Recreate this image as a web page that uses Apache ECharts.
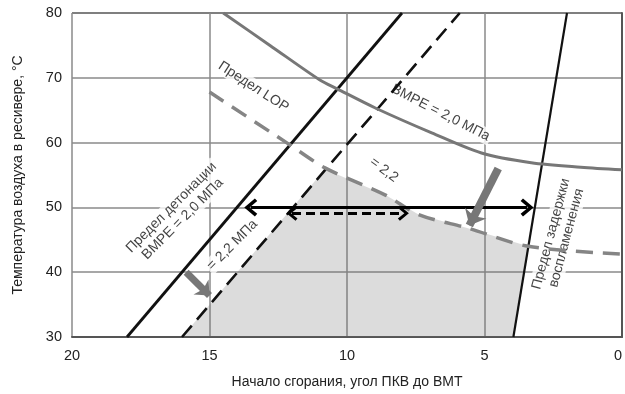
<!DOCTYPE html>
<html><head><meta charset="utf-8">
<script src="https://cdn.jsdelivr.net/npm/echarts@6/dist/echarts.min.js"></script>
<style>html,body{margin:0;padding:0;background:#fff}#c{width:625px;height:394px}</style>
</head><body><div id="c"></div>
<script>
// ---- data ----
const detonationLimit20 = [[18, 30], [8, 80]];          // Предел детонации BMPE = 2,0
const detonationLimit22 = [[16, 30], [5.9, 80]];        // = 2,2 МПа
const ignitionDelayLimit = [[3.95, 30], [2.0, 80]];     // Предел задержки воспламенения
const lopLimit20 = [[14.5, 80], [12.8, 75], [11.0, 69.7], [10.36, 68.3], [8.95, 65.3], [6.92, 61.5], [5.11, 58.4], [3.3, 56.9], [1.5, 56.2], [0, 55.8]];
const lopLimit22 = [[15, 67.8], [12.2, 60], [10.8, 56.1], [8.6, 51.9], [7.4, 48.9], [5.6, 46.8], [3.41, 44.0], [0, 42.8]];
const zoneArea = [[16, 30], [10.8, 55.9], [8.6, 51.9], [7.4, 48.9], [5.6, 46.8], [3.41, 44.0], [3.95, 30]];
const rangeSolid = [[13.5, 50], [3.45, 50]];
const rangeDashed = [[12.0, 49.1], [7.95, 49.1]];
const shiftArrowLeft = [[15.85, 40.0], [15.0, 36.4]];
const shiftArrowRight = [[4.5, 56.0], [5.55, 47.2]];
const xTicks = [20, 15, 10, 5, 0];
const yTicks = [30, 40, 50, 60, 70, 80];
const annotations = [
  { text: 'Предел LOP', pos: [13.4, 68.6], rot: -33 },
  { text: 'BMPE = 2,0 МПа', pos: [6.6, 64.6], rot: -27 },
  { text: '= 2,2', pos: [8.66, 55.8], rot: -37 },
  { text: 'Предел детонации\nBMPE = 2,0 МПа', pos: [16.18, 49.1], rot: 45 },
  { text: '= 2,2 МПа', pos: [14.17, 44.2], rot: 45 },
  { text: 'Предел задержки\nвоспламенения', pos: [2.3, 45.6], rot: 75 }
];
const xName = 'Начало сгорания, угол ПКВ до ВМТ';
const yName = 'Температура воздуха в ресивере, °C';

// ---- chart ----
const FONT = "'Liberation Sans',Arial,sans-serif";
const chev = 'path://M0,0 L10,9 L7,11 L0,4.5 L-7,11 L-10,9 Z';
const chart = echarts.init(document.getElementById('c'), null, { renderer: 'canvas' });
chart.setOption({
  animation: false,
  textStyle: { fontFamily: FONT },
  grid: { left: 72, right: 1, top: 13, bottom: 57 },
  xAxis: {
    type: 'value', inverse: true, min: xTicks[xTicks.length - 1], max: xTicks[0], interval: 5,
    name: xName, nameLocation: 'middle', nameGap: 38,
    nameTextStyle: { fontSize: 14, color: '#222', fontFamily: FONT },
    axisLine: { lineStyle: { color: '#555', width: 2 } },
    axisTick: { show: false },
    axisLabel: { fontSize: 14.5, color: '#222', margin: 11, fontFamily: FONT, alignMinLabel: 'right' },
    splitLine: { show: true, lineStyle: { color: '#8a8a8a', width: 1.5 } }
  },
  yAxis: {
    type: 'value', min: yTicks[0], max: yTicks[yTicks.length - 1], interval: 10,
    name: yName, nameLocation: 'middle', nameGap: 47, nameRotate: 90,
    nameTextStyle: { fontSize: 14, color: '#222', fontFamily: FONT },
    axisLine: { show: true, lineStyle: { color: '#555', width: 2 } },
    axisTick: { show: false },
    axisLabel: { fontSize: 14.5, color: '#222', margin: 10, fontFamily: FONT },
    splitLine: { show: true, lineStyle: { color: ['#8a8a8a', '#8a8a8a', '#8a8a8a', '#8a8a8a', '#8a8a8a', '#555'], width: 1.5 } }
  },
  series: [
    {
      type: 'custom', z: 1, silent: true,
      renderItem: function (params, api) {
        if (params.dataIndex !== 0) return;
        const pts = zoneArea.map(p => api.coord(p));
        return { type: 'polygon', shape: { points: pts }, style: { fill: 'rgba(110,110,110,0.24)', stroke: null } };
      },
      data: [[0, 0]]
    },
    {
      type: 'scatter', z: 1, silent: true, symbolSize: 0,
      data: annotations.map(a => ({
        value: a.pos,
        label: {
          show: true, position: 'inside', rotate: a.rot, formatter: a.text,
          fontSize: 14, lineHeight: 16, color: '#111', fontFamily: FONT,
          backgroundColor: '#fff', padding: [0, 2]
        }
      }))
    },
    { type: 'line', z: 3, data: detonationLimit20, showSymbol: false, lineStyle: { color: '#111', width: 2.8 } },
    { type: 'line', z: 3, data: detonationLimit22, showSymbol: false, lineStyle: { color: '#111', width: 2.6, type: [15, 8] } },
    { type: 'line', z: 3, data: ignitionDelayLimit, showSymbol: false, lineStyle: { color: '#111', width: 2.2 } },
    { type: 'line', z: 3, data: lopLimit20, showSymbol: false, smooth: 0.3, lineStyle: { color: '#777', width: 3 } },
    { type: 'line', z: 3, data: lopLimit22, showSymbol: false, smooth: 0.3, lineStyle: { color: '#858585', width: 3.5, type: [17, 10] } },
    {
      type: 'line', z: 4, data: [], silent: true,
      markLine: {
        silent: true, animation: false, label: { show: false }, emphasis: { disabled: true },
        data: [
          [{ coord: rangeSolid[0], symbol: chev, symbolSize: [18, 13], lineStyle: { color: '#000', width: 3, type: 'solid' } },
           { coord: rangeSolid[1], symbol: chev, symbolSize: [18, 13] }],
          [{ coord: rangeDashed[0], symbol: chev, symbolSize: [15, 11], lineStyle: { color: '#000', width: 3, type: [9, 5] } },
           { coord: rangeDashed[1], symbol: chev, symbolSize: [15, 11] }],
          [{ coord: shiftArrowLeft[0], symbol: 'none', lineStyle: { color: '#777', width: 7, type: 'solid' } },
           { coord: shiftArrowLeft[1], symbol: 'arrow', symbolSize: [16, 12] }],
          [{ coord: shiftArrowRight[0], symbol: 'none', lineStyle: { color: '#777', width: 8, type: 'solid' } },
           { coord: shiftArrowRight[1], symbol: 'arrow', symbolSize: [18, 14] }]
        ]
      }
    }
  ]
});
</script></body></html>
